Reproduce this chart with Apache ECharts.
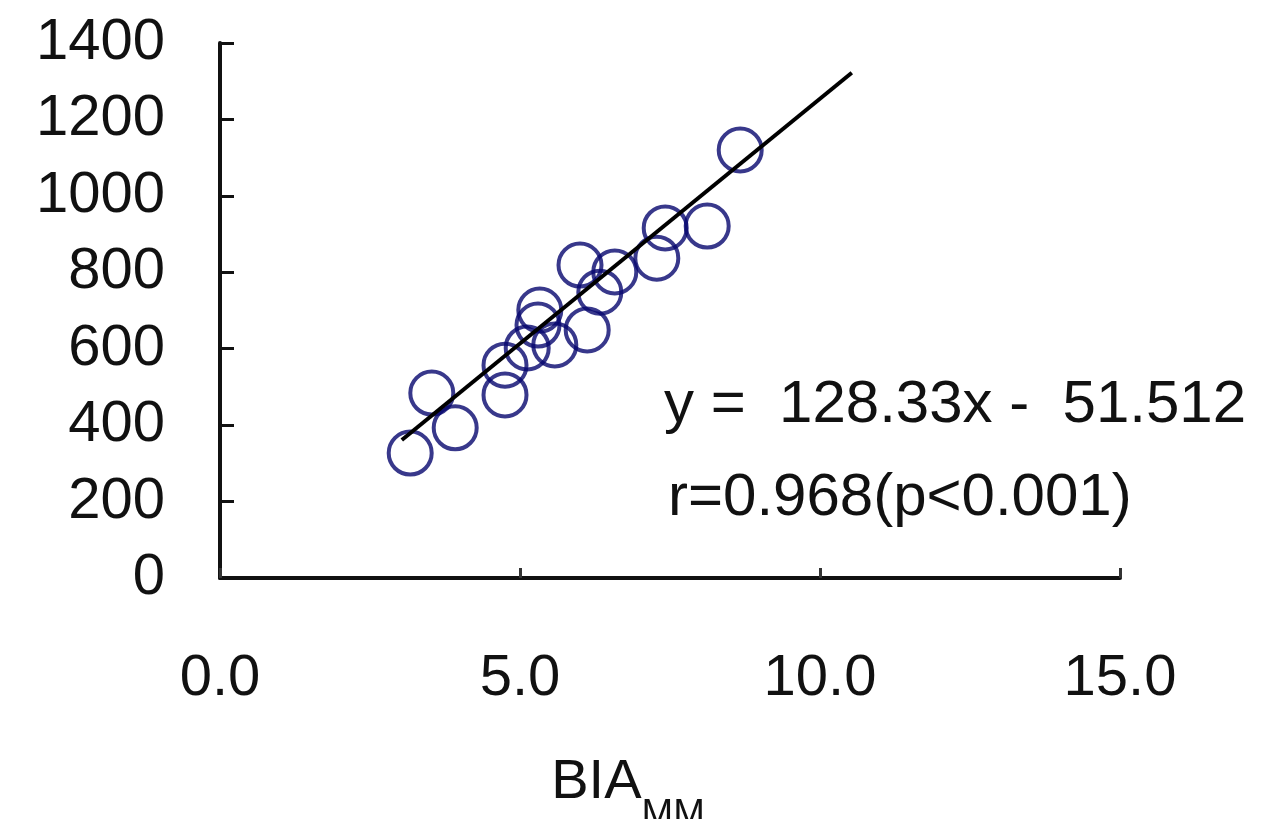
<!DOCTYPE html>
<html>
<head>
<meta charset="utf-8">
<script src="https://cdn.jsdelivr.net/npm/echarts@6/dist/echarts.min.js"></script>
<style>
html,body{margin:0;padding:0;background:#fff;}
#chart{width:1269px;height:819px;}
</style>
</head>
<body>
<div id="chart"></div>
<script>
// Data
const bia = [8.67, 8.12, 7.42, 7.28, 6.58, 6.00, 6.33, 6.12, 5.58, 5.33, 5.30, 5.12, 4.75, 4.75, 3.92, 3.53, 3.17];
const measured = [1120, 921, 916, 837, 801, 819, 748, 649, 610, 701, 662, 602, 557, 479, 393, 484, 327];
const fitX = [3.03, 10.53];
const fitY = [361, 1322];
const xTicks = [0, 5, 10, 15];
const yTicks = [0, 200, 400, 600, 800, 1000, 1200, 1400];
const equationText = 'y =  128.33x -  51.512';
const rText = 'r=0.968(p<0.001)';
const xName = ['BIA', 'MM'];

const FONT = "'Liberation Sans', Arial, sans-serif";
const chart = echarts.init(document.getElementById('chart'));
const points = bia.map((x, i) => [x, measured[i]]);
const fitLine = fitX.map((x, i) => [x, fitY[i]]);

chart.setOption({
  animation: false,
  backgroundColor: '#fff',
  grid: {left: 220, right: 149, top: 43, bottom: 241, containLabel: false, outerBoundsMode: 'none'},
  xAxis: {
    type: 'value', min: xTicks[0], max: xTicks[xTicks.length - 1], interval: 5,
    splitLine: {show: false},
    axisLine: {show: true, onZero: false, lineStyle: {color: '#111', width: 4}},
    axisTick: {show: true, inside: true, length: 10, lineStyle: {color: '#333', width: 3}},
    axisLabel: {margin: 72, fontSize: 58, fontFamily: FONT, color: '#111',
      formatter: v => v.toFixed(1)},
    name: '{a|' + xName[0] + '}{s|' + xName[1] + '}',
    nameLocation: 'middle', nameGap: 171,
    nameTextStyle: {
      padding: [0, 84, 0, 0],
      rich: {
        a: {fontSize: 56, fontFamily: FONT, color: '#111', verticalAlign: 'bottom', lineHeight: 62},
        s: {fontSize: 38, fontFamily: FONT, color: '#111', verticalAlign: 'bottom', padding: [0, 0, -24, 0], lineHeight: 42}
      }
    }
  },
  yAxis: {
    type: 'value', min: yTicks[0], max: yTicks[yTicks.length - 1], interval: 200,
    splitLine: {show: false},
    axisLine: {show: true, onZero: false, lineStyle: {color: '#111', width: 4}},
    axisTick: {show: true, inside: true, length: 14, lineStyle: {color: '#111', width: 3}},
    axisLabel: {margin: 55, fontSize: 58, fontFamily: FONT, color: '#111',
      formatter: v => String(v)}
  },
  series: [
    {
      type: 'scatter', data: points, symbol: 'circle', symbolSize: 43,
      itemStyle: {color: 'rgba(0,0,0,0)', borderColor: '#06066e', borderWidth: 4},
      z: 2
    },
    {
      type: 'line', data: fitLine, symbol: 'none',
      lineStyle: {color: '#000', width: 4}, z: 3
    }
  ],
  graphic: [
    {type: 'text', left: 664, top: 375, style: {text: equationText, font: '60px ' + FONT, fill: '#111'}},
    {type: 'text', left: 668, top: 468, style: {text: rText, font: '60px ' + FONT, fill: '#111'}}
  ]
});
</script>
</body>
</html>
